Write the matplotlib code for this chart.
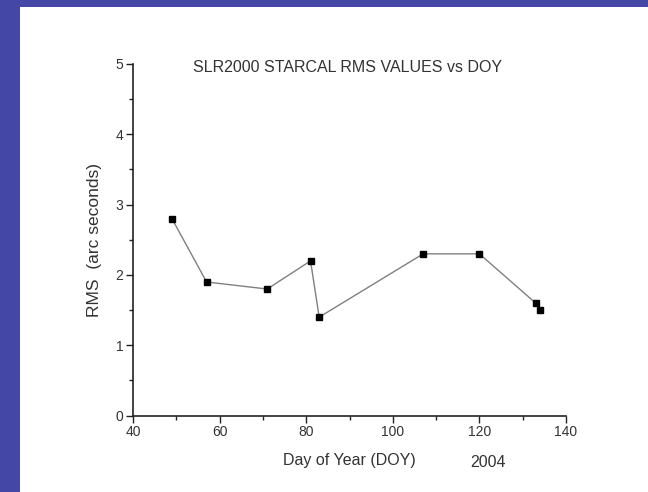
import matplotlib
matplotlib.use('Agg')
import matplotlib.pyplot as plt
from matplotlib.patches import Rectangle
from matplotlib.ticker import MultipleLocator

# SLR2000 star calibration RMS, 2004
doy = [49, 57, 71, 81, 83, 107, 120, 133, 134]
rms = [2.8, 1.9, 1.8, 2.2, 1.4, 2.3, 2.3, 1.6, 1.5]

plt.rcParams['font.family'] = ['Liberation Sans', 'DejaVu Sans']
txt = '#333333'

fig = plt.figure(figsize=(6.48, 4.92), dpi=100)
fig.patch.set_facecolor('white')

# blue slide border, left and top
blue = '#4547a7'
fig.patches.append(Rectangle((0, 0), 20/648, 1, transform=fig.transFigure,
                             facecolor=blue, edgecolor='none', zorder=0))
fig.patches.append(Rectangle((0, 1 - 7/492), 1, 7/492, transform=fig.transFigure,
                             facecolor=blue, edgecolor='none', zorder=0))

ax = fig.add_axes([133/648, 1 - 415.6/492, (566 - 133)/648, (415.6 - 64)/492])
ax.plot(doy, rms, color='#808080', lw=1.0, marker='s', ms=4.6,
        mfc='black', mec='black', zorder=3)

ax.set_xlim(40, 140)
ax.set_ylim(0, 5)
ax.xaxis.set_major_locator(MultipleLocator(20))
ax.xaxis.set_minor_locator(MultipleLocator(10))
ax.yaxis.set_major_locator(MultipleLocator(1))
ax.yaxis.set_minor_locator(MultipleLocator(0.5))

for s in ['top', 'right']:
    ax.spines[s].set_visible(False)
for s in ['left', 'bottom']:
    ax.spines[s].set_color('#222222')
    ax.spines[s].set_linewidth(1.2)

ax.tick_params(which='major', direction='out', length=5, width=1, colors='#222222',
               labelsize=10, labelcolor=txt, pad=2)
ax.tick_params(which='minor', direction='out', length=3, width=1, colors='#222222')

ax.set_xlabel('Day of Year (DOY)', fontsize=11.5, color=txt, labelpad=10)
ax.set_ylabel('RMS  (arc seconds)', fontsize=12.5, color=txt, labelpad=10)
ax.text(0.82, -0.112, '2004', transform=ax.transAxes, fontsize=11.5, color=txt,
        ha='center', va='top')
ax.text(0.495, 0.99, 'SLR2000 STARCAL RMS VALUES vs DOY', transform=ax.transAxes,
        fontsize=11.5, color=txt, ha='center', va='center')

fig.savefig('out.png', dpi=100)
